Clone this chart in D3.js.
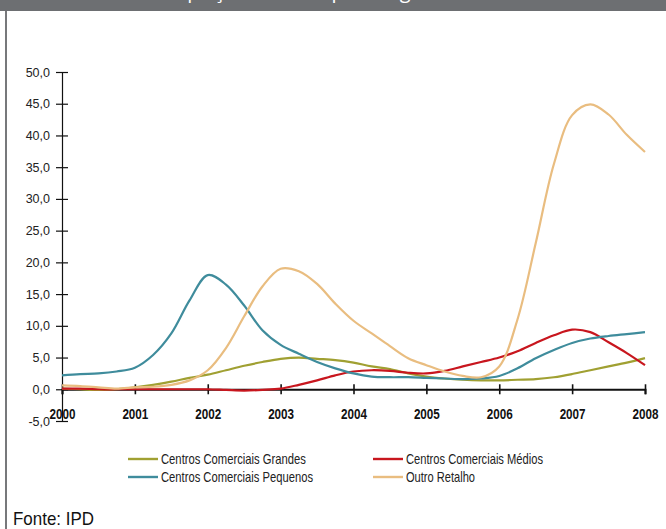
<!DOCTYPE html>
<html lang="pt">
    <head>
        <meta charset="utf-8">
        <title>Taxa de desocupação média por segmento</title>
        <script type="text/javascript" src="https://cdn.jsdelivr.net/npm/d3@7"></script>
        <style>
            body { margin: 0; background: #fff; }
            text { font-family: "Liberation Sans Narrow", "Arial Narrow", "Liberation Sans", sans-serif; }
        </style>
    </head>
    <body>
        <script type="text/javascript">

            //Width and height
            var w = 666;
            var h = 529;

            //Quarterly time points, 2000 to 2008
            var years = [2000, 2000.25, 2000.5, 2000.75, 2001, 2001.25, 2001.5, 2001.75,
                         2002, 2002.25, 2002.5, 2002.75, 2003, 2003.25, 2003.5, 2003.75,
                         2004, 2004.25, 2004.5, 2004.75, 2005, 2005.25, 2005.5, 2005.75,
                         2006, 2006.25, 2006.5, 2006.75, 2007, 2007.25, 2007.5, 2007.75, 2008];

            //Vacancy rate per segment (%)
            var grandes = [0.1, 0.0, -0.1, 0.0, 0.3, 0.7, 1.2, 1.8,
                           2.3, 3.0, 3.7, 4.3, 4.8, 5.0, 4.8, 4.6,
                           4.2, 3.6, 3.2, 2.5, 2.0, 1.7, 1.5, 1.4,
                           1.4, 1.5, 1.6, 1.9, 2.4, 3.0, 3.6, 4.2, 4.9];
            var medios = [0.1, 0.1, 0.0, 0.0, 0.0, 0.0, 0.0, 0.0,
                          0.0, -0.1, -0.2, -0.1, 0.1, 0.7, 1.4, 2.2,
                          2.8, 3.0, 2.9, 2.6, 2.5, 2.9, 3.6, 4.3,
                          5.0, 6.0, 7.3, 8.5, 9.4, 9.0, 7.4, 5.7, 3.8];
            var pequenos = [2.2, 2.4, 2.5, 2.8, 3.4, 5.4, 8.8, 14.0,
                            18.0, 16.5, 13.2, 9.3, 7.0, 5.6, 4.3, 3.3,
                            2.5, 2.0, 1.9, 1.9, 1.8, 1.7, 1.6, 1.7,
                            2.1, 3.3, 4.9, 6.2, 7.3, 8.0, 8.4, 8.7, 9.0];
            var outro = [0.6, 0.5, 0.3, 0.1, 0.3, 0.4, 0.7, 1.4,
                         3.0, 6.5, 11.5, 16.2, 19.0, 18.6, 16.6, 13.5,
                         10.8, 8.8, 6.8, 4.9, 3.8, 2.8, 2.1, 1.9,
                         3.6, 11.0, 23.0, 35.5, 43.2, 44.9, 43.3, 40.1, 37.4];

            var seriesNames = ["Centros Comerciais Grandes", "Centros Comerciais Médios",
                               "Centros Comerciais Pequenos", "Outro Retalho"];
            var seriesColors = ["#a0a032", "#c8161e", "#3f8c9c", "#e9bd80"];
            var seriesValues = [grandes, medios, pequenos, outro];

            //Tick labels
            var yTicks = [-5, 0, 5, 10, 15, 20, 25, 30, 35, 40, 45, 50];
            var xTicks = [2000, 2001, 2002, 2003, 2004, 2005, 2006, 2007, 2008];

            //Scales
            var xScale = d3.scaleLinear().domain([2000, 2008]).range([62, 645]);
            var yScale = d3.scaleLinear().domain([-5, 50]).range([421, 72]);

            var fmt = function(d) { return d3.format(".1f")(d).replace(".", ",").replace("−", "-"); };

            //Create SVG element
            var svg = d3.select("body")
                        .append("svg")
                        .attr("width", w)
                        .attr("height", h);

            //Header bar with the (cut off) title
            svg.append("rect")
                .attr("x", 0).attr("y", 0)
                .attr("width", w).attr("height", 11)
                .attr("fill", "#6d6f72");
            svg.append("text")
                .attr("x", 20).attr("y", -2)
                .attr("textLength", 460)
                .attr("lengthAdjust", "spacing")
                .style("font-family", "'Open Sans', sans-serif")
                .attr("font-size", "20px")
                .attr("fill", "#fff")
                .text("Taxa de desocupação média por segmento");

            //Left frame line
            svg.append("line")
                .attr("x1", 6).attr("x2", 6)
                .attr("y1", 11).attr("y2", h)
                .attr("stroke", "#77787b")
                .attr("stroke-width", 2);

            //Y axis
            var yAxis = d3.axisLeft(yScale)
                        .tickValues(yTicks)
                        .tickSize(6)
                        .tickPadding(6)
                        .tickFormat(fmt);
            var gy = svg.append("g")
                .attr("transform", "translate(" + xScale(2000) + ",0)")
                .call(yAxis);
            gy.select(".domain").attr("stroke", "#111").attr("stroke-width", 1.2);
            gy.selectAll(".tick line").attr("x1", 6).attr("stroke", "#111").attr("stroke-width", 1.2);
            gy.selectAll(".tick text")
                .attr("font-size", "12.5px")
                .attr("fill", "#222");

            //X axis on the zero line
            var xAxis = d3.axisBottom(xScale)
                        .tickValues(xTicks)
                        .tickSize(5)
                        .tickPadding(14)
                        .tickFormat(d3.format("d"));
            var gx = svg.append("g")
                .attr("transform", "translate(0," + yScale(0) + ")")
                .call(xAxis);
            gx.select(".domain").attr("stroke", "#111").attr("stroke-width", 2);
            gx.selectAll(".tick line").attr("y1", -5).attr("stroke", "#111").attr("stroke-width", 1.6);
            gx.selectAll(".tick text")
                .attr("font-size", "15.5px")
                .attr("font-weight", "bold")
                .attr("fill", "#111")
                .attr("textLength", 26)
                .attr("lengthAdjust", "spacingAndGlyphs");

            //Lines
            var line = d3.line()
                .x(function(d, i) { return xScale(years[i]); })
                .y(function(d) { return yScale(d); })
                .curve(d3.curveCatmullRom.alpha(0.5));

            svg.selectAll("path.series")
                .data(seriesValues)
                .enter()
                .append("path")
                .attr("class", "series")
                .attr("d", line)
                .attr("fill", "none")
                .attr("stroke", function(d, i) { return seriesColors[i]; })
                .attr("stroke-width", 2.2);

            //Legend
            var legendX = [128, 373];
            var legendY = [459, 477];
            var legendLen = [145, 137, 152, 69];
            var legend = svg.selectAll("g.legend")
                .data(seriesNames)
                .enter()
                .append("g")
                .attr("class", "legend")
                .attr("transform", function(d, i) {
                    return "translate(" + legendX[i % 2] + "," + legendY[Math.floor(i / 2)] + ")";
                });
            legend.append("line")
                .attr("x1", 0).attr("x2", 30)
                .attr("y1", 0).attr("y2", 0)
                .attr("stroke", function(d, i) { return seriesColors[i]; })
                .attr("stroke-width", 2.4);
            legend.append("text")
                .attr("x", 33).attr("y", 5)
                .attr("font-size", "14.5px")
                .attr("fill", "#222")
                .attr("textLength", function(d, i) { return legendLen[i]; })
                .attr("lengthAdjust", "spacingAndGlyphs")
                .text(function(d) { return d; });

            //Source
            svg.append("text")
                .attr("x", 13).attr("y", 525)
                .attr("font-size", "19px")
                .attr("fill", "#111")
                .attr("textLength", 81)
                .attr("lengthAdjust", "spacingAndGlyphs")
                .text("Fonte: IPD");

        </script>
    </body>
</html>
